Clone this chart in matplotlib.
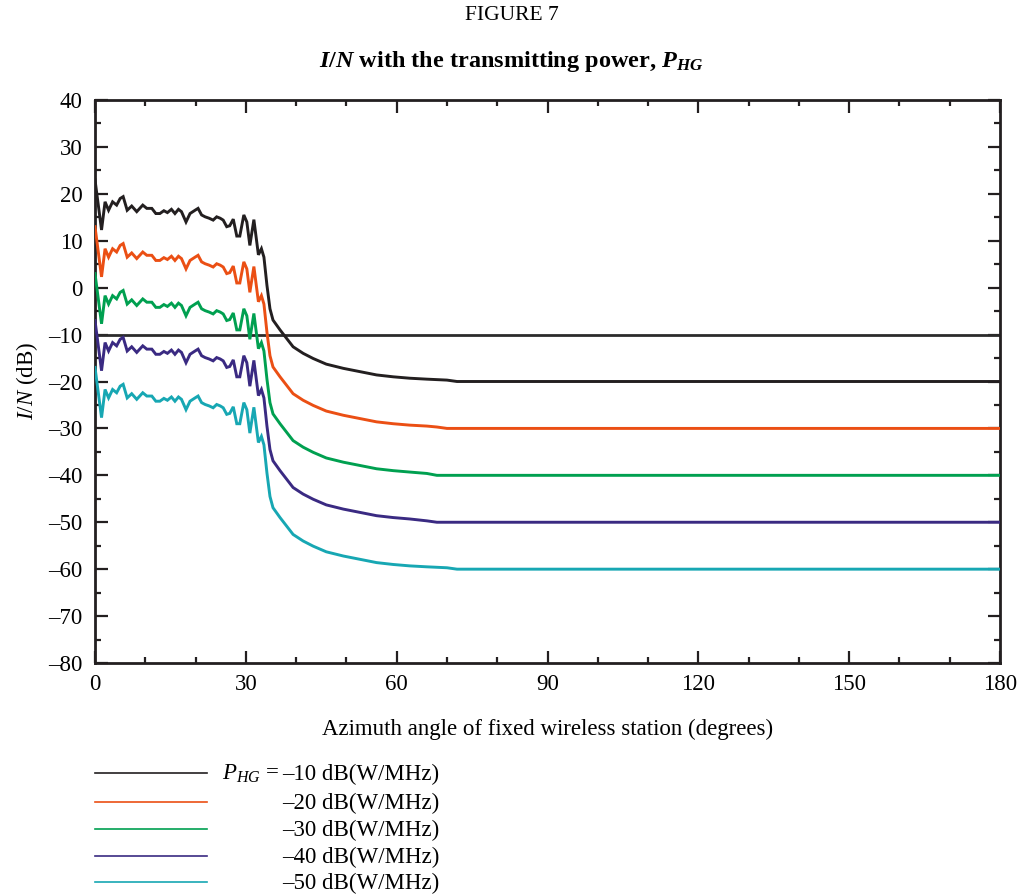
import matplotlib
matplotlib.use("Agg")
import matplotlib.pyplot as plt
from matplotlib.lines import Line2D
from matplotlib.ticker import MultipleLocator, FixedLocator, FixedFormatter

plt.rcParams['font.family'] = ['Liberation Serif', 'DejaVu Serif']
plt.rcParams['mathtext.fontset'] = 'custom'
plt.rcParams['mathtext.rm'] = 'Liberation Serif'
plt.rcParams['mathtext.it'] = 'Liberation Serif:italic'
plt.rcParams['mathtext.bf'] = 'Liberation Serif:bold'
plt.rcParams['mathtext.bfit'] = 'Liberation Serif:italic:bold'

# ---------------- data ----------------
azimuth_deg = [0, 1.3, 2.0, 2.7, 3.5, 4.3, 5.0, 5.6, 6.4, 7.3,
               8.3, 9.5, 10.3, 11.3, 12.1, 12.9, 13.7, 14.4, 15.2, 15.9,
               16.6, 17.2, 18.1, 18.9, 19.9, 20.5, 21.2, 21.9, 22.7, 23.5,
               24.2, 24.9, 25.5, 26.2, 26.8, 27.5, 28.2, 28.8, 29.6, 30.2,
               30.8, 31.6, 32.5, 33.1, 33.6, 34.2, 34.8, 35.4, 36.8, 38.1,
               39.4, 41.4, 43.4, 46.0, 49.4, 52.7, 56.0, 59.3, 62.6, 66.0,
               68.0, 70.0, 72.0, 180]

in_p_minus10 = [23.0, 12.3, 18.3, 16.5, 18.3, 17.6, 19.0, 19.4, 16.5, 17.4,
                16.2, 17.6, 16.9, 16.9, 15.8, 15.8, 16.4, 16.0, 16.7, 15.8,
                16.7, 16.2, 14.0, 15.8, 16.5, 16.9, 15.5, 15.1, 14.8, 14.4,
                15.1, 14.8, 14.4, 13.0, 13.2, 14.6, 11.0, 11.0, 15.5, 14.0,
                9.0, 14.5, 7.0, 8.3, 6.5, 0.5, -4.5, -6.9, -9.0, -10.8,
                -12.6, -14.0, -15.1, -16.3, -17.2, -17.9, -18.6, -19.0, -19.3, -19.5,
                -19.6, -19.7, -20.0, -20.0]

in_p_minus20 = [13.0, 2.3, 8.3, 6.5, 8.3, 7.6, 9.0, 9.4, 6.5, 7.4,
                6.2, 7.6, 6.9, 6.9, 5.8, 5.8, 6.4, 6.0, 6.7, 5.8,
                6.7, 6.2, 4.0, 5.8, 6.5, 6.9, 5.5, 5.1, 4.8, 4.4,
                5.1, 4.8, 4.4, 3.0, 3.2, 4.6, 1.0, 1.0, 5.5, 4.0,
                -1.0, 4.5, -3.0, -1.7, -3.5, -9.5, -14.5, -16.9, -19.0, -20.8,
                -22.6, -24.0, -25.1, -26.3, -27.2, -27.9, -28.6, -29.0, -29.3, -29.5,
                -29.7, -30.0, -30.0, -30.0]

in_p_minus30 = [3.0, -7.7, -1.7, -3.5, -1.7, -2.4, -1.0, -0.6, -3.5, -2.6,
                -3.8, -2.4, -3.1, -3.1, -4.2, -4.2, -3.6, -4.0, -3.3, -4.2,
                -3.3, -3.8, -6.0, -4.2, -3.5, -3.1, -4.5, -4.9, -5.2, -5.6,
                -4.9, -5.2, -5.6, -7.0, -6.8, -5.4, -9.0, -9.0, -4.5, -6.0,
                -11.0, -5.5, -13.0, -11.7, -13.5, -19.5, -24.5, -26.9, -29.0, -30.8,
                -32.6, -34.0, -35.1, -36.3, -37.2, -37.9, -38.6, -39.0, -39.3, -39.6,
                -40.0, -40.0, -40.0, -40.0]

in_p_minus40 = [-7.0, -17.7, -11.7, -13.5, -11.7, -12.4, -11.0, -10.6, -13.5, -12.6,
                -13.8, -12.4, -13.1, -13.1, -14.2, -14.2, -13.6, -14.0, -13.3, -14.2,
                -13.3, -13.8, -16.0, -14.2, -13.5, -13.1, -14.5, -14.9, -15.2, -15.6,
                -14.9, -15.2, -15.6, -17.0, -16.8, -15.4, -19.0, -19.0, -14.5, -16.0,
                -21.0, -15.5, -23.0, -21.7, -23.5, -29.5, -34.5, -36.9, -39.0, -40.8,
                -42.6, -44.0, -45.1, -46.3, -47.2, -47.9, -48.6, -49.0, -49.3, -49.7,
                -50.0, -50.0, -50.0, -50.0]

in_p_minus50 = [-17.0, -27.7, -21.7, -23.5, -21.7, -22.4, -21.0, -20.6, -23.5, -22.6,
                -23.8, -22.4, -23.1, -23.1, -24.2, -24.2, -23.6, -24.0, -23.3, -24.2,
                -23.3, -23.8, -26.0, -24.2, -23.5, -23.1, -24.5, -24.9, -25.2, -25.6,
                -24.9, -25.2, -25.6, -27.0, -26.8, -25.4, -29.0, -29.0, -24.5, -26.0,
                -31.0, -25.5, -33.0, -31.7, -33.5, -39.5, -44.5, -46.9, -49.0, -50.8,
                -52.6, -54.0, -55.1, -56.3, -57.2, -57.9, -58.6, -59.0, -59.3, -59.5,
                -59.6, -59.7, -60.0, -60.0]

threshold_db = -10

power_labels = ["\u201310 dB(W/MHz)", "\u201320 dB(W/MHz)", "\u201330 dB(W/MHz)",
                "\u201340 dB(W/MHz)", "\u201350 dB(W/MHz)"]
series_colors = ["#231f20", "#eb4f14", "#00a050", "#3a2a82", "#17a7b3"]

x_ticks = [0, 30, 60, 90, 120, 150, 180]
x_tick_labels = ["0", "30", "60", "90", "120", "150", "180"]
y_ticks = [40, 30, 20, 10, 0, -10, -20, -30, -40, -50, -60, -70, -80]
y_tick_labels = ["40", "30", "20", "10", "0", "\u201310", "\u201320", "\u201330",
                 "\u201340", "\u201350", "\u201360", "\u201370", "\u201380"]

# ---------------- figure ----------------
W, H = 1023, 894
fig = plt.figure(figsize=(W / 100, H / 100), dpi=100)
left, right, top, bottom = 95, 1000, 100, 663
ax = fig.add_axes([left / W, 1 - bottom / H, (right - left) / W, (bottom - top) / H])

series = [in_p_minus10, in_p_minus20, in_p_minus30, in_p_minus40, in_p_minus50]
ax.axhline(threshold_db, color="#2b2b2b", lw=2.0, zorder=2)
for vals, col in zip(series, series_colors):
    ax.plot(azimuth_deg, vals, color=col, lw=2.1, solid_joinstyle="miter", zorder=3)

ax.set_xlim(0, 180)
ax.set_ylim(-80, 40)
ax.xaxis.set_major_locator(FixedLocator(x_ticks))
ax.xaxis.set_major_formatter(FixedFormatter(x_tick_labels))
ax.yaxis.set_major_locator(FixedLocator(y_ticks))
ax.yaxis.set_major_formatter(FixedFormatter(y_tick_labels))
ax.xaxis.set_minor_locator(MultipleLocator(10))
ax.yaxis.set_minor_locator(MultipleLocator(5))
ax.tick_params(which="both", direction="in", top=True, right=True,
               width=1.6, color="#231f20", labelsize=16.5)
ax.tick_params(which="major", length=9)
ax.tick_params(which="minor", length=4)
ax.tick_params(axis="x", which="major", pad=8)
ax.tick_params(axis="y", which="major", pad=9)
for sp in ax.spines.values():
    sp.set_linewidth(2.0)
    sp.set_color("#231f20")

ax.set_xlabel("Azimuth angle of fixed wireless station (degrees)", fontsize=16.5, labelpad=17)
ax.set_ylabel(r"$I/N$ (dB)", fontsize=16.5, labelpad=6)

fig.text(0.5, 1 - 15 / H, "FIGURE 7", ha="center", va="center", fontsize=15.5)
fig.text(0.5, 1 - 62 / H,
         r"$\mathbfit{I}$/$\mathbfit{N}$ with the transmitting power, $\mathbfit{P}_{\mathbfit{HG}}$",
         ha="center", va="center", fontsize=17.5, fontweight="bold")

# ---------------- legend (manual) ----------------
row_y = [773, 802, 829, 856, 882]
for yy, col, lab in zip(row_y, series_colors, power_labels):
    fig.add_artist(Line2D([95 / W, 207 / W], [1 - yy / H, 1 - yy / H],
                          color=col, lw=1.2, transform=fig.transFigure))
    fig.text(282 / W, 1 - (yy + 1) / H, lab, ha="left", va="center", fontsize=16.5)
fig.text(279 / W, 1 - (row_y[0] + 1) / H, r"$P_{HG}$ =", ha="right", va="center", fontsize=16.5)

fig.savefig("out.png", dpi=100)
